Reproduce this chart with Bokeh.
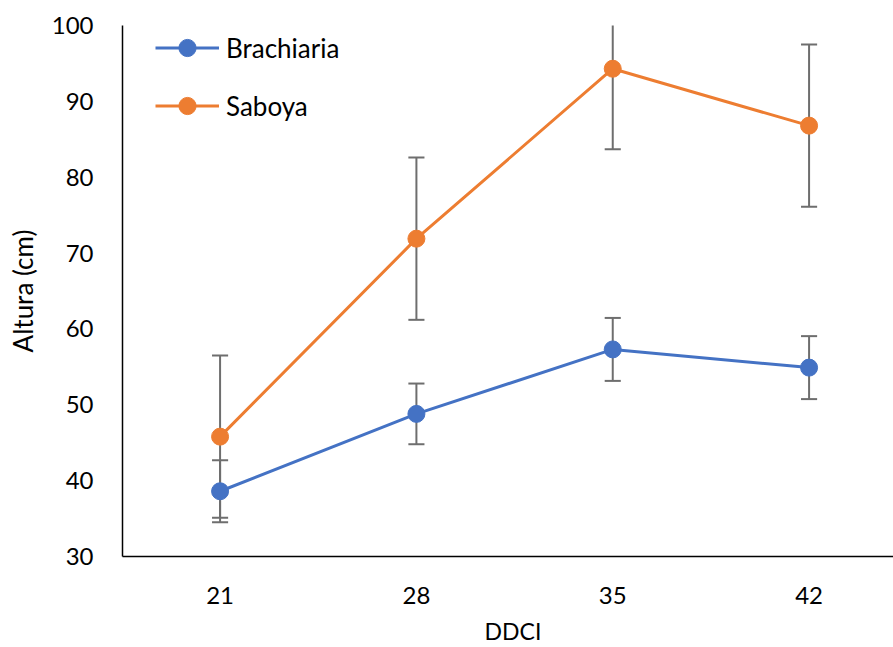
from bokeh.plotting import figure
from bokeh.models import FixedTicker, Legend, LegendItem, ColumnDataSource, Div
from bokeh.layouts import column
from bokeh.embed import file_html
from bokeh.resources import INLINE

categories = ["21", "28", "35", "42"]
brachiaria = [38.6, 48.8, 57.3, 54.9]
brachiaria_err = [4.1, 4.0, 4.15, 4.15]
saboya = [45.8, 71.9, 94.3, 86.8]
saboya_err = [10.7, 10.7, 10.6, 10.7]
x_title = "DDCI"
y_title = "Altura (cm)"

FONT = "Lato"
xs = list(range(len(categories)))

p = figure(width=893, height=612, output_backend="svg", toolbar_location=None,
           x_range=(-0.497, 3.43), y_range=(30, 100),
           min_border_left=122, min_border_right=0, min_border_top=25, min_border_bottom=56)
p.outline_line_color = None
p.grid.visible = False

cap = 0.041
for vals, errs in ((brachiaria, brachiaria_err), (saboya, saboya_err)):
    lo = [v - e for v, e in zip(vals, errs)]
    hi = [v + e for v, e in zip(vals, errs)]
    src = ColumnDataSource(dict(x=xs, lo=lo, hi=hi,
                                xl=[x - cap for x in xs], xr=[x + cap for x in xs]))
    p.segment(x0="x", y0="lo", x1="x", y1="hi", source=src, line_color="#6e6e6e", line_width=2)
    p.segment(x0="xl", y0="lo", x1="xr", y1="lo", source=src, line_color="#6e6e6e", line_width=2)
    p.segment(x0="xl", y0="hi", x1="xr", y1="hi", source=src, line_color="#6e6e6e", line_width=2)

items = []
for name, vals, color in (("Brachiaria", brachiaria, "#4472C4"), ("Saboya", saboya, "#ED7D31")):
    l = p.line(xs, vals, line_color=color, line_width=3)
    c = p.scatter(xs, vals, size=17, fill_color=color, line_color=color)
    items.append(LegendItem(label=name, renderers=[l, c]))

legend = Legend(items=items, location=(33, 429), orientation="vertical",
                glyph_width=64, glyph_height=43, spacing=15, padding=0, margin=0,
                label_standoff=7, label_text_font=FONT, label_text_font_size="26px",
                label_text_color="#000000", border_line_color=None, background_fill_alpha=0)
p.add_layout(legend)

p.xaxis.ticker = FixedTicker(ticks=xs)
p.xaxis.major_label_overrides = {i: c for i, c in enumerate(categories)}
p.yaxis.ticker = FixedTicker(ticks=[30, 40, 50, 60, 70, 80, 90, 100])

for ax in (p.xaxis, p.yaxis):
    ax.axis_line_color = "#000000"
    ax.axis_line_width = 1.5
    ax.major_tick_line_color = None
    ax.minor_tick_line_color = None
    ax.major_label_text_font = FONT
    ax.major_label_text_font_size = "24px"
    ax.major_label_text_color = "#000000"
    ax.axis_label_text_font = FONT
    ax.axis_label_text_font_size = "26px"
    ax.axis_label_text_font_style = "normal"
    ax.axis_label_text_color = "#000000"

p.yaxis.axis_label = y_title
p.xaxis.major_label_standoff = 24
p.yaxis.major_label_standoff = 23
p.yaxis.axis_label_standoff = 10

xdiv = Div(text=x_title, width=893, height=35,
           styles={"font-family": FONT, "font-size": "23px", "line-height": "23px",
                   "color": "#000000", "text-align": "center",
                   "padding-top": "3px", "padding-left": "123px",
                   "box-sizing": "border-box"})

layout = column(p, xdiv, spacing=0)
open("out.html", "w").write(file_html(layout, INLINE))
